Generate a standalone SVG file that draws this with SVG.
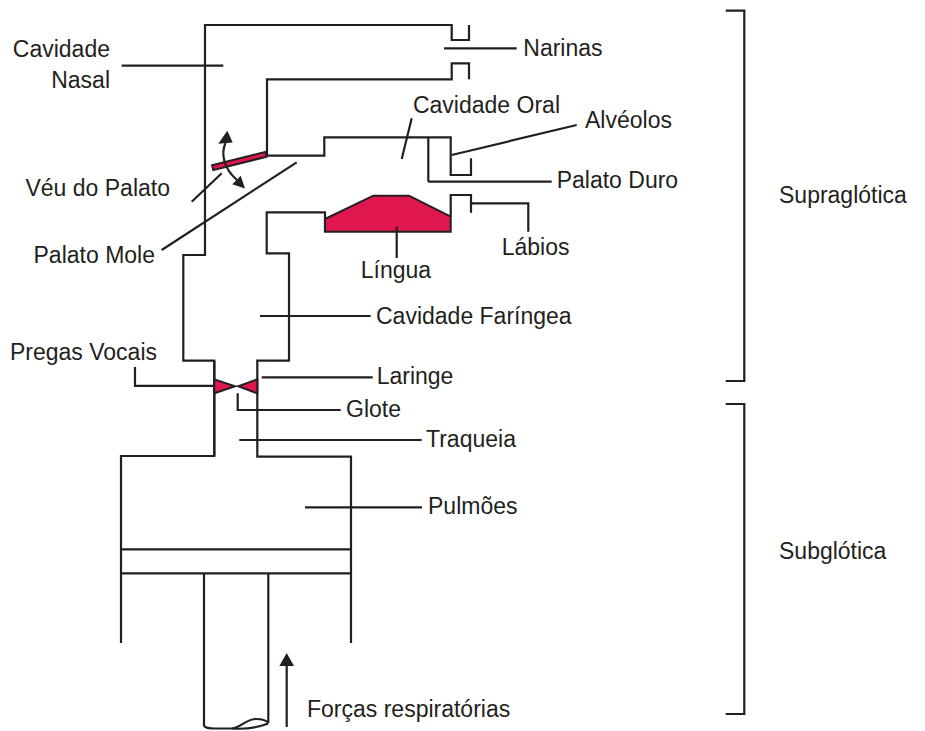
<svg xmlns="http://www.w3.org/2000/svg" width="925" height="731" viewBox="0 0 925 731">
<style>
.w{fill:none;stroke:#231f20;stroke-width:2.2;stroke-linejoin:miter}
.p{fill:#e0174f;stroke:#231f20;stroke-width:2}
.a{fill:#231f20;stroke:none}
text{font-family:"Liberation Sans",Arial,sans-serif;font-size:23px;fill:#231f20}
.e{text-anchor:end}
.m{text-anchor:middle}
</style>
<rect width="925" height="731" fill="#fff"/>
<g id="tract">
<path class="w" d="M121,643 V456 H214.3 V360.7 H183.3 V255 H205 V25 H451.7 V40 H469 V25"/>
<path class="w" d="M267,155.7 V79.3 H451.7 V63.3 H469 V79.3"/>
<path class="w" d="M267,155.7 H324.3 V137.3 H450.7 V175 H471 V158.3"/>
<path class="w" d="M428.3,137.3 V181.7"/>
<path class="w" d="M351,643 V456.7 H257.3 V360.7 H289 V253.3 H266.7 V212.3 H325 V231.7"/>
<path class="w" d="M450.7,216.7 V195 H471 V212.7"/>
<path class="w" d="M214.3,360.7 V456"/>
<path class="w" d="M121,549.3 H351 M121,573.3 H351"/>
</g>
<g id="tongue"><polygon class="p" points="325,231.7 325,219 373.3,195.7 409,195.7 450.7,216.7 450.7,231.7"/></g>
<g id="velum"><polygon class="p" points="212.1,165.3 265.4,151.9 266.6,156.7 213.3,170.1"/></g>
<g id="vocal-folds">
<polygon class="p" points="214.3,379.3 214.3,393.3 235,386.3"/>
<polygon class="p" points="257.3,379.3 257.3,393.3 238.3,386.3"/>
</g>
<g id="piston">
<path class="w" d="M204,573.3 V726 M268.3,573.3 V723"/>
<path class="w" d="M204,726 Q206,728.5 215,728.5 L232,728.5 C242,727 246,719 256,719 C263,719 267,721 268.3,723"/>
<path class="w" d="M232,728.5 C245,729.5 259,727 268.3,723.5"/>
</g>
<g id="connectors">
<path class="w" d="M121.7,65.7 H223.3"/>
<path class="w" d="M444,48.3 H516.7"/>
<path class="w" d="M411.7,118.3 L401.7,159"/>
<path class="w" d="M451.7,155 L576.7,125"/>
<path class="w" d="M428.3,181.7 H551.7"/>
<path class="w" d="M471,203.3 H528.3 V231.7"/>
<path class="w" d="M396.7,226.7 V258"/>
<path class="w" d="M221.7,173.3 L191.7,201.7"/>
<path class="w" d="M296.7,162.3 L161.7,250"/>
<path class="w" d="M260,316 H370.7"/>
<path class="w" d="M135,367 V385.8 H214"/>
<path class="w" d="M261.7,377.3 H372.7"/>
<path class="w" d="M237.7,393.3 V410 H340.7"/>
<path class="w" d="M239.3,440 H421.7"/>
<path class="w" d="M305,507.3 H422"/>
<path class="w" d="M725.7,10.7 H744.3 V381 H725.7"/>
<path class="w" d="M725.7,404 H744.3 V714 H725.7"/>
<path class="w" d="M225.5,143 C221,153 223,168 237,180"/>
<polygon class="a" points="227.3,130.7 218.3,143.8 232.7,142.6"/>
<polygon class="a" points="245,188.5 232.3,184.2 240.7,175.8"/>
<path class="w" d="M286.7,664 V727"/>
<polygon class="a" points="286.7,653 279.3,666 294,666"/>
</g>
<g id="labels">
<text class="e" x="110" y="56.7">Cavidade</text>
<text class="e" x="110" y="88.3">Nasal</text>
<text class="e" x="170" y="196">Véu do Palato</text>
<text class="e" x="155" y="263">Palato Mole</text>
<text class="e" x="157" y="360">Pregas Vocais</text>
<text x="523.3" y="56">Narinas</text>
<text class="e" x="560" y="113.3">Cavidade Oral</text>
<text x="585" y="128.3">Alvéolos</text>
<text x="556.7" y="188.3">Palato Duro</text>
<text x="501.7" y="255">Lábios</text>
<text class="m" x="396" y="278">Língua</text>
<text x="376" y="324">Cavidade Faríngea</text>
<text x="376.7" y="384">Laringe</text>
<text x="346" y="416.7">Glote</text>
<text x="426" y="446.7">Traqueia</text>
<text x="428" y="514">Pulmões</text>
<text x="779" y="203">Supraglótica</text>
<text x="779" y="559">Subglótica</text>
<text x="307" y="717">Forças respiratórias</text>
</g>
</svg>
